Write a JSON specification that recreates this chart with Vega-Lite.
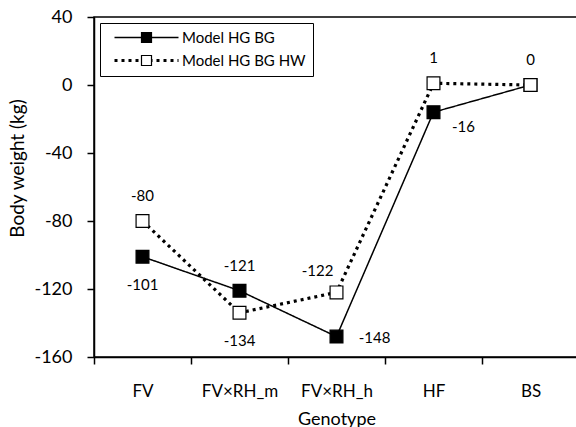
{
  "$schema": "https://vega.github.io/schema/vega-lite/v6.json",
  "width": 485,
  "height": 340,
  "autosize": {"type": "none"},
  "padding": {"left": 94, "top": 17, "right": 0, "bottom": 70},
  "background": "white",
  "title": {"text": "Model effects of genotype", "fontSize": 18, "fontWeight": "bold", "font": "Lato", "color": "black", "baseline": "alphabetic", "offset": 14, "anchor": "middle", "frame": "group"},
  "config": {
    "view": {"stroke": "black", "strokeWidth": 1.5},
    "font": "Lato",
    "axis": {"grid": false, "domainColor": "black", "domainWidth": 1.5, "tickColor": "black", "tickWidth": 1.5, "tickSize": 7, "labelColor": "black", "titleColor": "black", "titleFontWeight": "normal", "labelFont": "Lato", "titleFont": "Lato"}
  },
  "data": {
    "values": [
      {"genotype": "FV", "series": "Model HG BG", "value": -101},
      {"genotype": "FV×RH_m", "series": "Model HG BG", "value": -121},
      {"genotype": "FV×RH_h", "series": "Model HG BG", "value": -148},
      {"genotype": "HF", "series": "Model HG BG", "value": -16},
      {"genotype": "BS", "series": "Model HG BG", "value": 0},
      {"genotype": "FV", "series": "Model HG BG HW", "value": -80},
      {"genotype": "FV×RH_m", "series": "Model HG BG HW", "value": -134},
      {"genotype": "FV×RH_h", "series": "Model HG BG HW", "value": -122},
      {"genotype": "HF", "series": "Model HG BG HW", "value": 1},
      {"genotype": "BS", "series": "Model HG BG HW", "value": 0}
    ]
  },
  "encoding": {
    "x": {
      "field": "genotype", "type": "ordinal",
      "sort": ["FV", "FV×RH_m", "FV×RH_h", "HF", "BS"],
      "scale": {"type": "band", "paddingInner": 0, "paddingOuter": 0},
      "axis": {"title": "Genotype", "tickBand": "extent", "labelAngle": 0, "labelFontSize": 17, "labelPadding": 19, "titleFontSize": 18, "titlePadding": 11}
    },
    "y": {
      "field": "value", "type": "quantitative",
      "scale": {"domain": [-160, 40], "nice": false, "zero": false},
      "axis": {"title": "Body weight (kg)", "values": [-160, -120, -80, -40, 0, 40], "labelExpr": "replace(datum.label, '−', '-')", "labelFontSize": 18, "labelPadding": 15, "titleFontSize": 19, "titlePadding": 6, "titleY": 151}
    }
  },
  "layer": [
    {
      "mark": {"type": "line", "color": "black", "strokeCap": "butt"},
      "encoding": {
        "strokeDash": {
          "field": "series", "type": "nominal",
          "scale": {"domain": ["Model HG BG", "Model HG BG HW"], "range": [[1, 0], [3, 4]]},
          "legend": {"title": null, "orient": "top-left", "offset": 6, "padding": 7, "strokeColor": "black", "symbolType": "M-6.4,0H6.4", "symbolSize": 100, "symbolStrokeColor": "black", "symbolStrokeWidth": 2.5, "symbolOffset": 32, "labelOffset": 28, "labelFontSize": 15, "labelColor": "black", "rowPadding": 7}
        },
        "strokeWidth": {
          "field": "series", "type": "nominal",
          "scale": {"domain": ["Model HG BG", "Model HG BG HW"], "range": [1.5, 3.2]},
          "legend": null
        }
      }
    },
    {
      "mark": {"type": "point", "shape": "square", "filled": true, "size": 165, "stroke": "black", "strokeWidth": 1.2, "opacity": 1},
      "encoding": {
        "fill": {
          "field": "series", "type": "nominal",
          "scale": {"domain": ["Model HG BG", "Model HG BG HW"], "range": ["black", "white"]},
          "legend": {"title": null, "orient": "none", "legendX": 6, "legendY": 6, "padding": 7, "symbolType": "square", "symbolSize": 100, "symbolStrokeColor": "black", "symbolStrokeWidth": 1.2, "symbolOffset": 32, "labelOffset": 28, "labelFontSize": 15, "labelColor": "transparent", "rowPadding": 7}
        }
      }
    },
    {
      "transform": [{"filter": "(datum.series == 'Model HG BG' && datum.genotype == 'FV×RH_m') || (datum.series == 'Model HG BG HW' && indexof(['FV', 'HF', 'BS'], datum.genotype) >= 0)"}],
      "mark": {"type": "text", "fontSize": 15, "color": "black", "dy": -25},
      "encoding": {"text": {"field": "value", "type": "nominal"}}
    },
    {
      "transform": [{"filter": "(datum.series == 'Model HG BG' && datum.genotype == 'FV') || (datum.series == 'Model HG BG HW' && datum.genotype == 'FV×RH_m')"}],
      "mark": {"type": "text", "fontSize": 15, "color": "black", "dy": 28},
      "encoding": {"text": {"field": "value", "type": "nominal"}}
    },
    {
      "transform": [{"filter": "datum.series == 'Model HG BG' && datum.genotype == 'FV×RH_h'"}],
      "mark": {"type": "text", "fontSize": 15, "color": "black", "dx": 38, "dy": 1},
      "encoding": {"text": {"field": "value", "type": "nominal"}}
    },
    {
      "transform": [{"filter": "datum.series == 'Model HG BG' && datum.genotype == 'HF'"}],
      "mark": {"type": "text", "fontSize": 15, "color": "black", "dx": 30, "dy": 15},
      "encoding": {"text": {"field": "value", "type": "nominal"}}
    },
    {
      "transform": [{"filter": "datum.series == 'Model HG BG HW' && datum.genotype == 'FV×RH_h'"}],
      "mark": {"type": "text", "fontSize": 15, "color": "black", "dx": -19, "dy": -21},
      "encoding": {"text": {"field": "value", "type": "nominal"}}
    }
  ]
}
